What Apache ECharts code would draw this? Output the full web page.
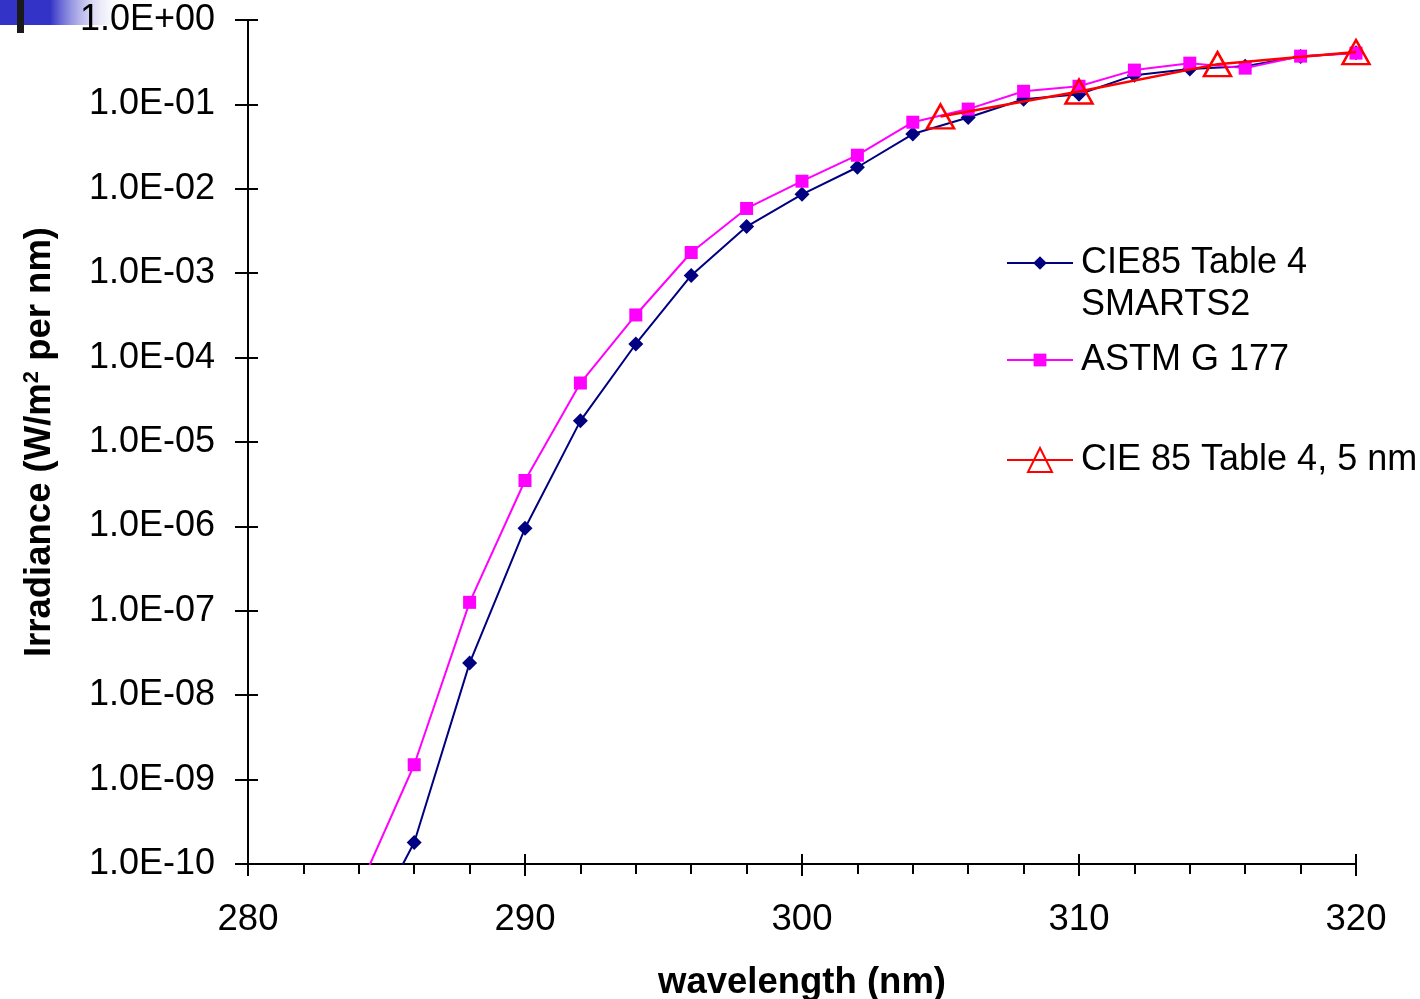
<!DOCTYPE html>
<html>
<head>
<meta charset="utf-8">
<script src="https://cdn.jsdelivr.net/npm/echarts@6/dist/echarts.min.js"></script>
<style>
html,body{margin:0;padding:0;background:#fff;overflow:hidden;}
#chart{width:1420px;height:999px;}
</style>
</head>
<body>
<div id="chart"></div>
<script>
const wavelengths = [284, 286, 288, 290, 292, 294, 296, 298, 300, 302, 304, 306, 308, 310, 312, 314, 316, 318, 320];
const cie85Smarts2 = [1e-11, 1.8e-10, 2.4e-8, 9.5e-7, 1.78e-5, 1.45e-4, 9.4e-4, 3.57e-3, 8.6e-3, 1.8e-2, 4.45e-2, 7.0e-2, 0.115, 0.132, 0.222, 0.263, 0.284, 0.37, 0.41];
const astmG177 = [5e-11, 1.5e-9, 1.26e-7, 3.5e-6, 5.0e-5, 3.2e-4, 1.76e-3, 5.85e-3, 1.23e-2, 2.5e-2, 6.15e-2, 8.8e-2, 0.143, 0.164, 0.255, 0.308, 0.269, 0.373, 0.405];
const wavelengths5nm = [305, 310, 315, 320];
const cie85Table4_5nm = [0.072, 0.142, 0.30, 0.417];
const seriesNames = ['CIE85 Table 4\nSMARTS2', 'ASTM G 177', 'CIE 85 Table 4, 5 nm'];
const xTickLabels = [280, 290, 300, 310, 320];
const yExponents = [-10, -9, -8, -7, -6, -5, -4, -3, -2, -1, 0];

const FONT = "'Liberation Sans', Arial, sans-serif";
function pairs(xs, ys) { return xs.map((x, i) => [x, ys[i]]); }
function fmtExp(v) {
  const e = Math.round(Math.log10(v));
  return '1.0E' + (e < 0 ? '-' : '+') + String(Math.abs(e)).padStart(2, '0');
}

const el = document.getElementById('chart');
const chart = echarts.init(el, null, {renderer: 'canvas'});
const xMin = xTickLabels[0], xMax = xTickLabels[xTickLabels.length - 1];
const yMin = Math.pow(10, yExponents[0]), yMax = Math.pow(10, yExponents[yExponents.length - 1]);
const legendText = {fontSize: 36, lineHeight: 42, color: '#000', fontFamily: FONT, padding: [0, 0, 0, 3]};

const option = {
  animation: false,
  backgroundColor: '#ffffff',
  textStyle: {fontFamily: FONT},
  graphic: [
    {type: 'rect', z: 0, shape: {x: 0, y: 0, width: 125, height: 25},
     style: {fill: new echarts.graphic.LinearGradient(0, 0, 1, 0, [
       {offset: 0, color: '#3333c8'}, {offset: 0.4, color: '#3333c8'}, {offset: 1, color: 'rgba(255,255,255,0)'}])}},
    {type: 'rect', z: 0, shape: {x: 17, y: 0, width: 7, height: 33}, style: {fill: '#1a1a1a'}}
  ],
  grid: {left: 248, right: 64, top: 20, bottom: 135, containLabel: false, outerBoundsMode: 'none'},
  xAxis: [
    {type: 'value', min: xMin, max: xMax, interval: 10,
     name: 'wavelength (nm)', nameLocation: 'middle', nameGap: 100,
     nameTextStyle: {fontSize: 36.5, fontWeight: 'bold', color: '#000', fontFamily: FONT},
     axisLine: {show: true, lineStyle: {color: '#000', width: 2}},
     axisTick: {show: true, inside: false, length: 12, lineStyle: {color: '#000', width: 2}},
     minorTick: {show: true, splitNumber: 5, length: 10, lineStyle: {color: '#000', width: 2}},
     axisLabel: {fontSize: 36.5, color: '#000', margin: 37, fontFamily: FONT,
       formatter: v => xTickLabels.includes(v) ? String(v) : ''},
     splitLine: {show: false}},
    {type: 'value', min: xMin, max: xMax, interval: 10, position: 'bottom',
     axisLine: {show: false}, axisLabel: {show: false}, splitLine: {show: false},
     axisTick: {show: true, inside: true, length: 10, lineStyle: {color: '#000', width: 2}}}
  ],
  yAxis: [
    {type: 'log', logBase: 10, min: yMin, max: yMax, interval: 1,
     name: 'Irradiance (W/m{sup|2} per nm)', nameLocation: 'middle', nameGap: 190, nameRotate: 90,
     nameTextStyle: {fontSize: 36.5, fontWeight: 'bold', color: '#000', fontFamily: FONT,
       rich: {sup: {fontSize: 22, fontWeight: 'bold', color: '#000', fontFamily: FONT, verticalAlign: 'top', lineHeight: 30}}},
     axisLine: {show: true, lineStyle: {color: '#000', width: 2}},
     axisTick: {show: true, inside: false, length: 13, lineStyle: {color: '#000', width: 2}},
     axisLabel: {fontSize: 36, color: '#000', margin: 33, formatter: fmtExp, fontFamily: FONT},
     splitLine: {show: false}, minorTick: {show: false}},
    {type: 'log', logBase: 10, min: yMin, max: yMax, interval: 1, position: 'left',
     axisLine: {show: false}, axisLabel: {show: false}, splitLine: {show: false},
     axisTick: {show: true, inside: true, length: 10, lineStyle: {color: '#000', width: 2}}}
  ],
  legend: [
    {data: [seriesNames[0]], formatter: name => '\n' + name,
     orient: 'vertical', left: 1001, top: 195, itemWidth: 66, itemHeight: 17, textStyle: legendText},
    {data: [seriesNames[1]],
     orient: 'vertical', left: 1001, top: 334, itemWidth: 66, itemHeight: 16, textStyle: legendText},
    {data: [seriesNames[2]],
     orient: 'vertical', left: 1001, top: 434, itemWidth: 66, itemHeight: 30, textStyle: legendText}
  ],
  series: [
    {name: seriesNames[0], type: 'line', data: pairs(wavelengths, cie85Smarts2),
     color: '#000080', symbol: 'diamond', symbolSize: 15, showAllSymbol: true, clip: true,
     lineStyle: {color: '#000080', width: 2}, itemStyle: {color: '#000080'}, z: 2},
    {name: seriesNames[1], type: 'line', data: pairs(wavelengths, astmG177),
     color: '#ff00ff', symbol: 'rect', symbolSize: 13, showAllSymbol: true, clip: true,
     lineStyle: {color: '#ff00ff', width: 2}, itemStyle: {color: '#ff00ff'}, z: 3},
    {name: seriesNames[2], type: 'line', data: pairs(wavelengths5nm, cie85Table4_5nm),
     color: '#ff0000', symbol: 'triangle', symbolSize: [27, 24], showAllSymbol: true, clip: true,
     lineStyle: {color: '#ff0000', width: 2.5},
     itemStyle: {color: 'rgba(255,255,255,0)', borderColor: '#ff0000', borderWidth: 2.5}, z: 4}
  ]
};
chart.setOption(option);
</script>
</body>
</html>
